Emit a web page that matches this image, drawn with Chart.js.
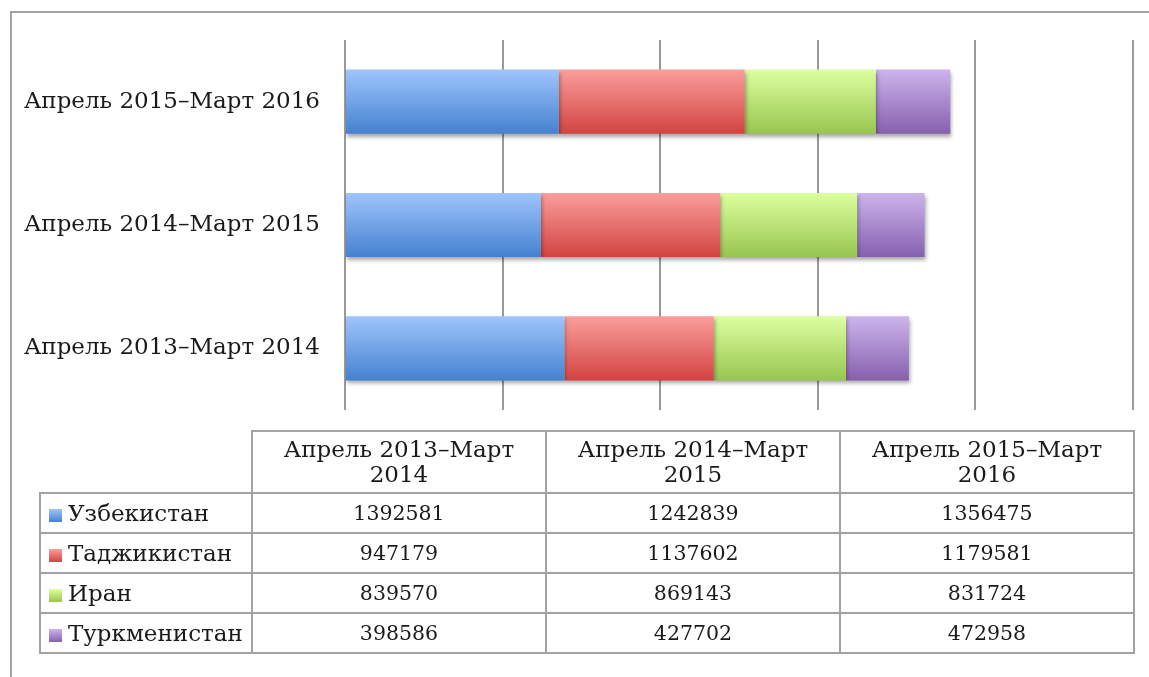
<!DOCTYPE html>
<html>
<head>
<meta charset="utf-8">
<script src="https://cdn.jsdelivr.net/npm/chart.js@4/dist/chart.umd.min.js"></script>
<style>
  html, body { margin: 0; padding: 0; background: #fff; overflow: hidden; }
  body { width: 1149px; height: 677px; position: relative; font-family: "DejaVu Serif", serif; color: #1a1a1a; }
  #frame { position: absolute; left: 10px; top: 11px; width: 1200px; height: 720px; border: 2px solid #a3a3a3; }
  #chart { position: absolute; left: 0; top: 0; }
  #tbl { position: absolute; left: 39px; top: 430px; border-collapse: collapse; table-layout: fixed; width: 1094px; }
  #tbl td { border: 2px solid #a3a3a3; padding: 0; text-align: center; font-size: 20.5px; height: 38px; }
  #tbl tr.head td { height: 60px; font-size: 23px; line-height: 25px; }
  #tbl td.blank { border: none; }
  #tbl td.name { text-align: left; padding-left: 8px; font-size: 23px; white-space: nowrap; }
  .sq { display: inline-block; width: 13px; height: 13px; margin-right: 6px; vertical-align: -1px; }
</style>
</head>
<body>
<div id="frame"></div>
<canvas id="chart" width="1149" height="677"></canvas>
<table id="tbl"></table>
<script>
// data
const categories = ["Апрель 2013–Март 2014", "Апрель 2014–Март 2015", "Апрель 2015–Март 2016"];
const countries = ["Узбекистан", "Таджикистан", "Иран", "Туркменистан"];
const uzbekistan = [1392581, 1242839, 1356475];
const tajikistan = [947179, 1137602, 1179581];
const iran = [839570, 869143, 831724];
const turkmenistan = [398586, 427702, 472958];
const series = [uzbekistan, tajikistan, iran, turkmenistan];

// gradient colours (top -> bottom) for each country
const topColors = ["#9fc5fc", "#fb9e9c", "#ddffa0", "#ccb4ec"];
const bottomColors = ["#4581d0", "#d24340", "#98c550", "#8660ae"];

// bars get a vertical gradient + soft drop shadow
const gradientBars = {
  id: "gradientBars",
  beforeDatasetsDraw(chart) {
    const ctx = chart.ctx;
    chart.data.datasets.forEach((ds, i) => {
      chart.getDatasetMeta(i).data.forEach(el => {
        const t = el.y - el.height / 2;
        const b = el.y + el.height / 2;
        const g = ctx.createLinearGradient(0, t, 0, b);
        g.addColorStop(0, topColors[i]);
        g.addColorStop(1, bottomColors[i]);
        el.options.backgroundColor = g;
      });
    });
    ctx.save();
    ctx.shadowColor = "rgba(0,0,0,0.35)";
    ctx.shadowBlur = 4;
    ctx.shadowOffsetX = 1;
    ctx.shadowOffsetY = 3;
  },
  afterDatasetsDraw(chart) {
    chart.ctx.restore();
  }
};

new Chart(document.getElementById("chart").getContext("2d"), {
  type: "bar",
  data: {
    labels: categories,
    datasets: countries.map((name, i) => ({
      label: name,
      data: series[i],
      backgroundColor: () => bottomColors[i],
      borderWidth: 0,
      barPercentage: 0.52,
      categoryPercentage: 1
    }))
  },
  options: {
    indexAxis: "y",
    responsive: false,
    animation: false,
    devicePixelRatio: 1,
    events: [],
    layout: { padding: { left: 0, top: 40, right: 16, bottom: 267 } },
    plugins: { legend: { display: false }, tooltip: { enabled: false } },
    scales: {
      x: {
        stacked: true,
        min: 0,
        max: 5000000,
        ticks: { display: false, stepSize: 1000000 },
        grid: { color: "#999", lineWidth: 2, drawTicks: false },
        border: { display: false },
        afterFit: s => { s.height = 0; }
      },
      y: {
        stacked: true,
        reverse: true,
        grid: { display: false, drawTicks: false },
        border: { display: false },
        ticks: {
          padding: 25,
          color: "#1a1a1a",
          font: { family: "DejaVu Serif", size: 23 }
        },
        afterFit: s => { s.width = 345; }
      }
    }
  },
  plugins: [gradientBars]
});

// data table under the chart
const tbl = document.getElementById("tbl");
let html = '<colgroup><col style="width:212px">' + categories.map(() => '<col style="width:294px">').join("") + "</colgroup>";
html += '<tr class="head"><td class="blank"></td>' +
  categories.map(c => "<td>" + c.replace(/ (\S+)$/, "<br>$1") + "</td>").join("") + "</tr>";
countries.forEach((name, i) => {
  html += '<tr><td class="name"><span class="sq" style="background:linear-gradient(' +
    topColors[i] + "," + bottomColors[i] + ')"></span>' + name + "</td>" +
    series[i].map(v => "<td>" + v + "</td>").join("") + "</tr>";
});
tbl.innerHTML = html;
</script>
</body>
</html>
